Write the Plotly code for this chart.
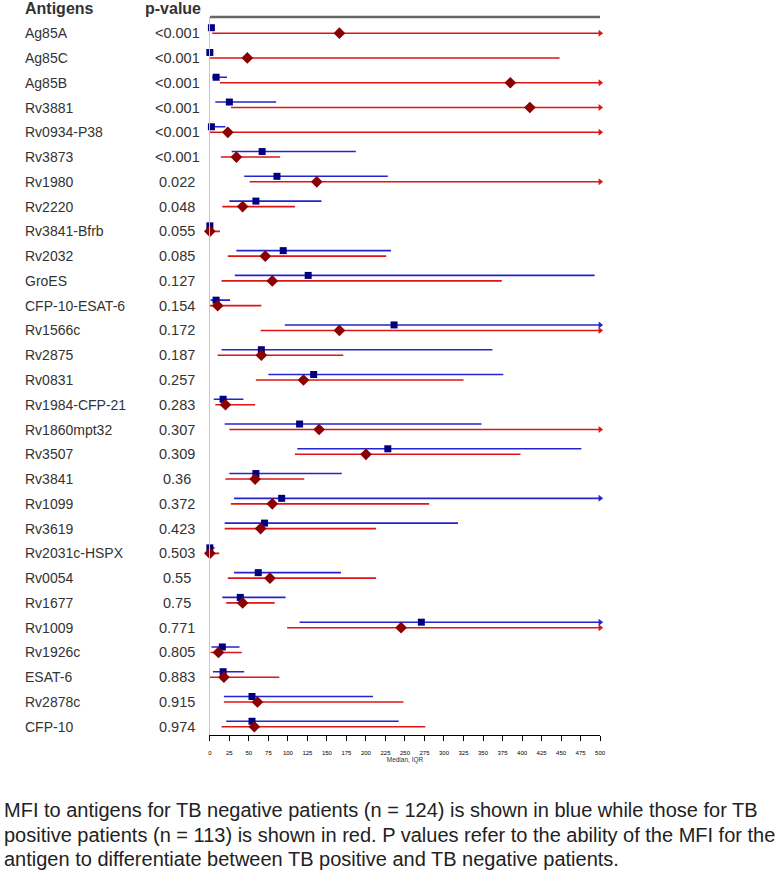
import plotly.graph_objects as go

# ---------------- data ----------------
antigens = ["Ag85A", "Ag85C", "Ag85B", "Rv3881", "Rv0934-P38", "Rv3873", "Rv1980",
            "Rv2220", "Rv3841-Bfrb", "Rv2032", "GroES", "CFP-10-ESAT-6", "Rv1566c",
            "Rv2875", "Rv0831", "Rv1984-CFP-21", "Rv1860mpt32", "Rv3507", "Rv3841",
            "Rv1099", "Rv3619", "Rv2031c-HSPX", "Rv0054", "Rv1677", "Rv1009",
            "Rv1926c", "ESAT-6", "Rv2878c", "CFP-10"]
p_values = ["<0.001", "<0.001", "<0.001", "<0.001", "<0.001", "<0.001", "0.022",
            "0.048", "0.055", "0.085", "0.127", "0.154", "0.172", "0.187", "0.257",
            "0.283", "0.307", "0.309", "0.36", "0.372", "0.423", "0.503", "0.55",
            "0.75", "0.771", "0.805", "0.883", "0.915", "0.974"]

# TB negative (blue): median, lower quartile, upper quartile (None = beyond axis)
neg_median = [2, 0, 8, 25, 2, 67, 86, 59, 0, 94, 126, 8, 236, 66, 133, 17, 115, 228,
              59, 92, 70, 0, 62, 39, 271, 16, 17, 54, 54]
neg_q1 = [0, 0, 3, 7, 0, 28, 44, 25, 0, 34, 32, 1, 96, 15, 75, 5, 19, 112,
          25, 31, 19, 0, 31, 16, 115, 2, 4, 18, 21]
neg_q3 = [4, 2, 22, 85, 20, 187, 228, 143, 1, 232, 493, 26, None, 362, 376, 43, 348, 476,
          169, None, 318, 6, 168, 97, None, 38, 44, 209, 242]

# TB positive (red)
pos_median = [166, 48, 385, 410, 23, 34, 137, 42, 0, 71, 80, 10, 166, 66, 120, 20, 140, 200,
              58, 80, 65, 0, 77, 42, 245, 11, 18, 61, 57]
pos_q1 = [3, 0, 13, 27, 0, 14, 51, 16, 0, 23, 15, 0, 65, 10, 59, 7, 25, 109,
          20, 27, 19, 0, 23, 21, 99, 1, 0, 18, 15]
pos_q3 = [None, 448, None, None, None, 90, None, 109, 13, 226, 374, 66, None, 171, 325, 58, None, 398,
          121, 281, 213, 12, 213, 83, None, 41, 89, 248, 276]

x_ticks = list(range(0, 501, 25))
x_title = "Median, IQR"
header_left = "Antigens"
header_right = "p-value"
caption_lines = [
    "MFI to antigens for TB negative patients (n = 124) is shown in blue while those for TB",
    "positive patients (n = 113) is shown in red. P values refer to the ability of the MFI for the",
    "antigen to differentiate between TB positive and TB negative patients.",
]

# ---------------- style ----------------
X_MAX = 500
W, H = 780, 875
BLUE_LINE = "#2424cc"
BLUE_MARK = "#000080"
RED_LINE = "#dd1515"
RED_MARK = "#8b0000"
TXT = "#333333"
FONT = "Liberation Sans, Arial, sans-serif"
BLUE_OFF = -0.222


def px_x(p):  # pixel -> paper x
    return p / W


def px_y(p):  # pixel -> paper y
    return 1 - p / H


n = len(antigens)
rows = list(range(n))


def seg(q1, q3, off):
    xs, ys = [], []
    for i in rows:
        hi = q3[i] if q3[i] is not None else X_MAX
        xs += [q1[i], hi, None]
        ys += [i + off, i + off, None]
    return xs, ys


fig = go.Figure()
bx, by = seg(neg_q1, neg_q3, BLUE_OFF)
rx, ry = seg(pos_q1, pos_q3, 0)
fig.add_trace(go.Scatter(x=bx, y=by, mode="lines", line=dict(color=BLUE_LINE, width=1.6),
                         hoverinfo="skip", showlegend=False, cliponaxis=False))
fig.add_trace(go.Scatter(x=rx, y=ry, mode="lines", line=dict(color=RED_LINE, width=1.6),
                         hoverinfo="skip", showlegend=False, cliponaxis=False))

# arrowheads for truncated intervals
ba = [i for i in rows if neg_q3[i] is None]
ra = [i for i in rows if pos_q3[i] is None]
fig.add_trace(go.Scatter(x=[X_MAX] * len(ba), y=[i + BLUE_OFF for i in ba], mode="markers",
                         marker=dict(symbol="triangle-right", size=6, color=BLUE_LINE),
                         hoverinfo="skip", showlegend=False, cliponaxis=False))
fig.add_trace(go.Scatter(x=[X_MAX] * len(ra), y=ra, mode="markers",
                         marker=dict(symbol="triangle-right", size=6, color=RED_LINE),
                         hoverinfo="skip", showlegend=False, cliponaxis=False))

fig.add_trace(go.Scatter(x=neg_median, y=[i + BLUE_OFF for i in rows], mode="markers",
                         marker=dict(symbol="square", size=7, color=BLUE_MARK),
                         name="TB negative", showlegend=False, cliponaxis=False))
fig.add_trace(go.Scatter(x=pos_median, y=rows, mode="markers",
                         marker=dict(symbol="diamond", size=9, color=RED_MARK),
                         name="TB positive", showlegend=False, cliponaxis=False))

# pixel geometry of the reference
top_px, bot_px = 17, 735
row0_px, step_px = 33.2, 24.77
y_top = -(row0_px - top_px) / step_px
y_bot = y_top + (bot_px - top_px) / step_px

annotations = []
for i in rows:
    annotations.append(dict(x=px_x(21), y=i, xref="paper", yref="y", text=antigens[i],
                            showarrow=False, xanchor="left", yanchor="middle",
                            font=dict(family=FONT, size=14, color=TXT)))
    annotations.append(dict(x=px_x(177), y=i, xref="paper", yref="y", text=p_values[i],
                            showarrow=False, xanchor="center", yanchor="middle",
                            font=dict(family=FONT, size=14.5, color=TXT)))
annotations.append(dict(x=px_x(21), y=px_y(9), xref="paper", yref="paper",
                        text="<b>%s</b>" % header_left, showarrow=False,
                        xanchor="left", yanchor="middle",
                        font=dict(family=FONT, size=16, color=TXT)))
annotations.append(dict(x=px_x(142), y=px_y(9), xref="paper", yref="paper",
                        text="<b>%s</b>" % header_right, showarrow=False,
                        xanchor="left", yanchor="middle",
                        font=dict(family=FONT, size=16, color=TXT)))
for k, line in enumerate(caption_lines):
    annotations.append(dict(x=px_x(0), y=px_y(810 + 24.5 * k), xref="paper", yref="paper",
                            text=line, showarrow=False, xanchor="left", yanchor="middle",
                            font=dict(family=FONT, size=20, color="#222222")))

shapes = [
    dict(type="line", xref="x", yref="paper", x0=0, x1=X_MAX,
         y0=px_y(top_px), y1=px_y(top_px), line=dict(color="#666666", width=2.5)),
]

fig.update_layout(
    width=W, height=H,
    margin=dict(l=0, r=0, t=0, b=0),
    paper_bgcolor="white", plot_bgcolor="white",
    font=dict(family=FONT, color=TXT),
    xaxis=dict(domain=[px_x(210), px_x(604.3)], range=[0, X_MAX], showgrid=False, zeroline=False,
               showline=True, linecolor="black", linewidth=1,
               ticks="outside", ticklen=5, tickcolor="black", tickwidth=1,
               tickvals=x_ticks, ticktext=[str(t) for t in x_ticks],
               ticklabelstandoff=7,
               tickfont=dict(size=6, color="black"),
               title=dict(text=x_title, font=dict(size=6.5, color="#333"), standoff=1)),
    yaxis=dict(domain=[px_y(bot_px), px_y(top_px)], range=[y_bot, y_top],
               showgrid=False, zeroline=False, showticklabels=False, ticks="",
               showline=True, linecolor="#c8c8c8", linewidth=1),
    annotations=annotations,
    shapes=shapes,
    showlegend=False,
)

# remove the page's default 8px body margin so the figure sits at the window origin
fig.write_html("out.html",
               config={"displayModeBar": False},
               post_script="document.body.style.margin='0px';document.body.style.overflow='hidden';")
